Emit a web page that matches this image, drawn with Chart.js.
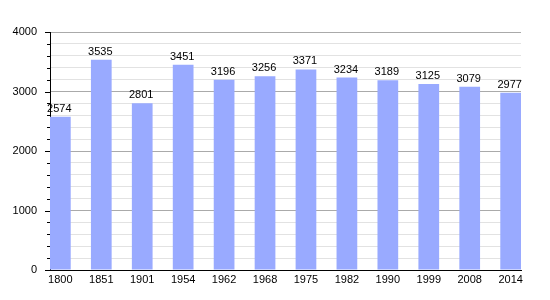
<!DOCTYPE html>
<html>
<head>
<meta charset="utf-8">
<script src="https://cdn.jsdelivr.net/npm/chart.js@4/dist/chart.umd.min.js"></script>
<style>
html,body{margin:0;padding:0;background:#fff;}
#wrap{width:550px;height:300px;}
</style>
</head>
<body>
<div id="wrap"><canvas id="c" width="550" height="300"></canvas></div>
<script>
const years = ["1800","1851","1901","1954","1962","1968","1975","1982","1990","1999","2008","2014"];
const population = [2574,3535,2801,3451,3196,3256,3371,3234,3189,3125,3079,2977];
const yTickLabels = [0,1000,2000,3000,4000];

const FONT = "'Liberation Sans', Arial, sans-serif";

const valueLabels = {
  id: 'valueLabels',
  afterDatasetsDraw(chart) {
    const ctx = chart.ctx;
    const meta = chart.getDatasetMeta(0);
    ctx.save();
    ctx.font = "11px " + FONT;
    ctx.fillStyle = "#000";
    ctx.textAlign = "center";
    ctx.textBaseline = "alphabetic";
    meta.data.forEach((bar, i) => {
      ctx.fillText(String(population[i]), bar.x - 1, bar.y - 5);
    });
    ctx.restore();
  }
};

const minorTicks = {
  id: 'minorTicks',
  afterDraw(chart) {
    const y = chart.scales.y;
    const ctx = chart.ctx;
    const left = chart.chartArea.left;
    ctx.save();
    ctx.strokeStyle = "#000";
    ctx.lineWidth = 1;
    for (let v = 0; v <= 4000; v += 200) {
      const len = (v % 1000 === 0) ? 5 : 3;
      const py = Math.round(y.getPixelForValue(v)) + 0.5;
      ctx.beginPath();
      ctx.moveTo(left - len, py);
      ctx.lineTo(left, py);
      ctx.stroke();
    }
    ctx.restore();
  }
};

new Chart(document.getElementById('c'), {
  type: 'bar',
  data: {
    datasets: [{
      data: population.map((v, i) => ({x: i, y: v})),
      backgroundColor: '#99aaff',
      borderWidth: 0,
      barPercentage: 1.0,
      categoryPercentage: 0.506
    }]
  },
  options: {
    responsive: false,
    animation: false,
    layout: { padding: { left: 12, right: 29, top: 32, bottom: 0 } },
    plugins: { legend: { display: false }, tooltip: { enabled: false } },
    scales: {
      x: {
        type: 'linear',
        offset: false,
        min: -0.253,
        max: 11.253,
        afterBuildTicks(scale) {
          scale.ticks = years.map((_, i) => ({value: i}));
        },
        afterFit(scale) { scale.height = 30; },
        ticks: {
          autoSkip: false,
          maxRotation: 0,
          padding: 3,
          color: '#000',
          font: { family: FONT, size: 11 },
          callback: (v) => years[v] !== undefined ? years[v] : ''
        },
        grid: { display: false, drawTicks: false },
        border: { display: true, color: '#000', width: 1 }
      },
      y: {
        min: 0,
        max: 4000,
        afterBuildTicks(scale) {
          const t = [];
          for (let v = 0; v <= 4000; v += 200) t.push({value: v});
          scale.ticks = t;
        },
        afterFit(scale) { scale.width = 38; },
        ticks: {
          autoSkip: false,
          padding: 8,
          color: '#000',
          font: { family: FONT, size: 11 },
          callback: (v) => yTickLabels.includes(v) ? String(v) : ''
        },
        grid: {
          color: (c) => (c.tick && c.tick.value % 1000 === 0) ? '#aaaaaa' : '#e2e2e2',
          lineWidth: 1,
          tickLength: 5,
          tickColor: 'rgba(0,0,0,0)'
        },
        border: { display: true, color: '#000', width: 1 }
      }
    }
  },
  plugins: [valueLabels, minorTicks]
});
</script>
</body>
</html>
